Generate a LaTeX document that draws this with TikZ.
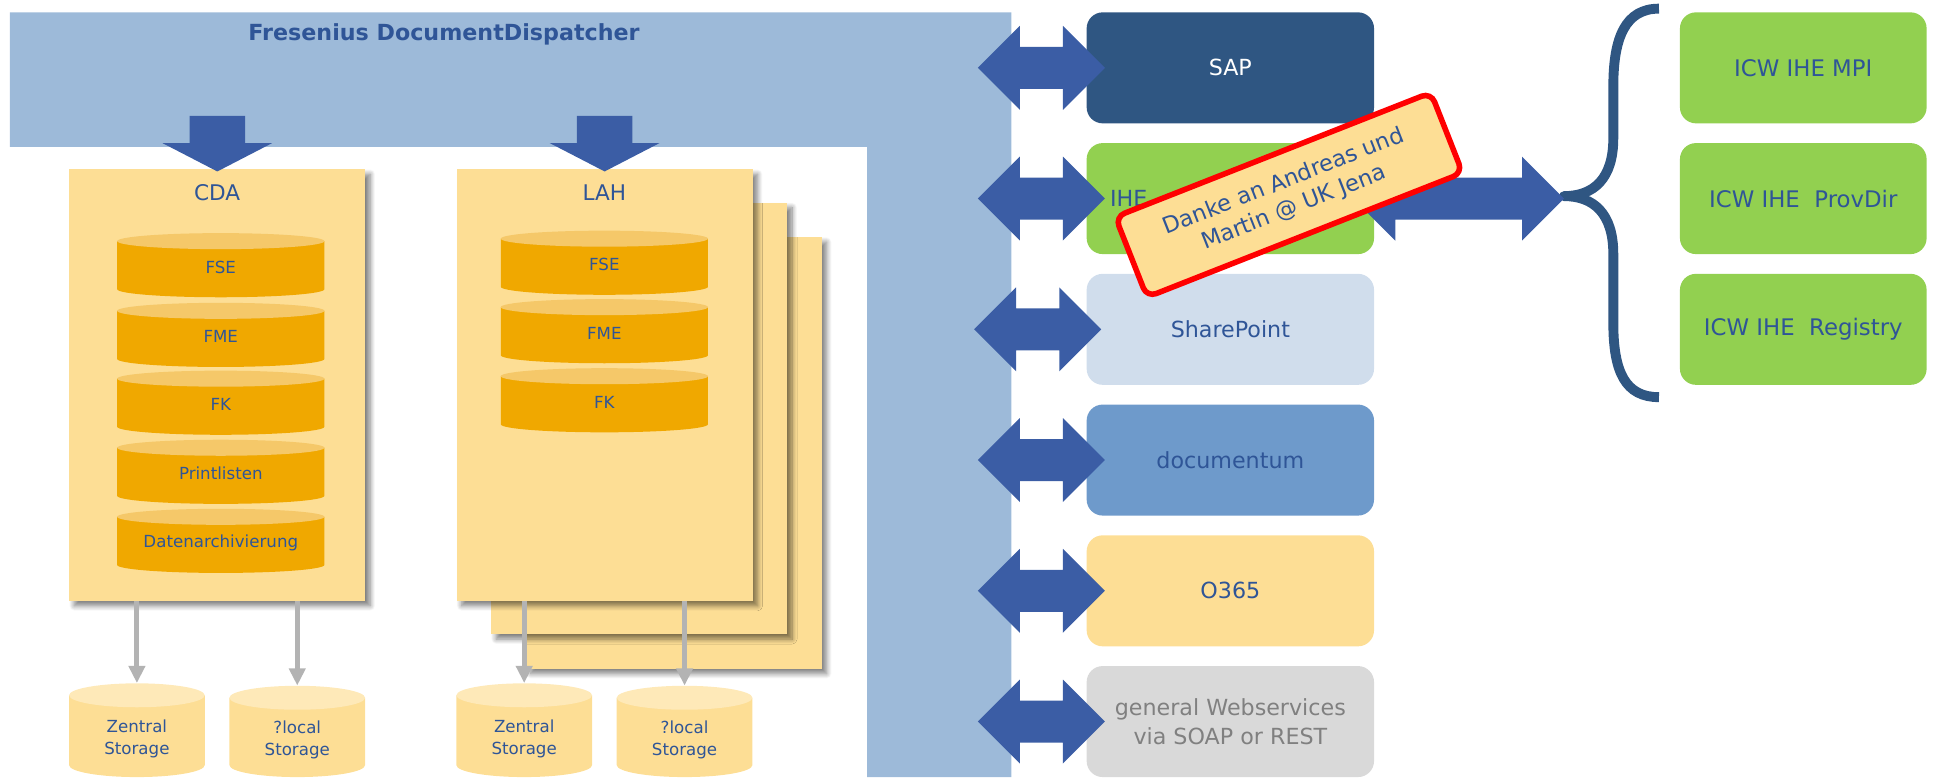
\documentclass[tikz,border=0pt]{standalone}
\usepackage{fontspec}
\setmainfont{DejaVu Sans}
\usetikzlibrary{shapes.geometric,shadows.blur,calc,arrows.meta}
\definecolor{band}{HTML}{9DBAD9}
\definecolor{ablue}{HTML}{3B5DA5}
\definecolor{tblue}{HTML}{2F5597}
\definecolor{ylw}{HTML}{FDDE95}
\definecolor{dbbody}{HTML}{F0A800}
\definecolor{dbtop}{HTML}{F5C869}
\definecolor{stbody}{HTML}{FDDE95}
\definecolor{sttop}{HTML}{FEE9B8}
\definecolor{sapblue}{HTML}{2F5682}
\definecolor{grn}{HTML}{92D050}
\definecolor{spblue}{HTML}{D0DDEC}
\definecolor{docblue}{HTML}{6E9ACB}
\definecolor{lgray}{HTML}{D9D9D9}
\definecolor{dgray}{HTML}{808080}
\definecolor{arrgray}{HTML}{B3B3B3}
\newcommand\bigdarrow[2]{%
  \fill[ablue] let \p1=#1, \p2=#2 in
    (\x1,\y1) -- (\x1+34pt,\y1+34pt) -- (\x1+34pt,\y1+17pt) -- (\x2-34pt,\y1+17pt)
    -- (\x2-34pt,\y1+34pt) -- (\x2,\y1) -- (\x2-34pt,\y1-34pt) -- (\x2-34pt,\y1-17pt)
    -- (\x1+34pt,\y1-17pt) -- (\x1+34pt,\y1-34pt) -- cycle;}
\newcommand\fatdown[1]{%
  \fill[ablue] let \p1=#1 in
    (\x1,\y1) -- (\x1-44.5pt,\y1+23pt) -- (\x1-22.5pt,\y1+23pt) -- (\x1-22.5pt,\y1+45pt)
    -- (\x1+22.5pt,\y1+45pt) -- (\x1+22.5pt,\y1+23pt) -- (\x1+44.5pt,\y1+23pt) -- cycle;}
% #1 name, #2 x, #3 y (centre), #4 width, #5 height, #6 ellipse radius, #7 kind (db/st), #8 text
\newcommand\cyl[8]{%
  \fill[#7body] (#2-#4/2,#3-#5/2+#6) -- (#2-#4/2,#3+#5/2-#6)
     arc[start angle=180,end angle=360,x radius=#4*0.5pt,y radius=#6*1pt]
     -- (#2+#4/2,#3-#5/2+#6) -- cycle;
  \fill[#7top] (#2,#3-#5/2+#6) ellipse[x radius=#4*0.5pt, y radius=#6*1pt];
  \node[#7cyl, minimum width=#4pt, minimum height=#5pt,
        label={[#7txt]center:{#8}}] (#1) at (#2,#3) {};}
\begin{document}
\begin{tikzpicture}[x=1pt,y=-1pt,
  panel/.style={fill=ylw, draw=none, minimum width=240pt, minimum height=350pt,
    anchor=north west, inner sep=0pt,
    blur shadow={shadow xshift=4pt, shadow yshift=-4pt, shadow blur radius=4pt,
      shadow blur steps=10, shadow opacity=50}},
  dbcyl/.style={inner sep=0pt},
  stcyl/.style={inner sep=0pt},
  dbtxt/.style={text=tblue, font=\fontsize{13.5}{16}\selectfont, yshift=-1.5pt},
  sttxt/.style={text=tblue, align=center, font=\fontsize{13.5}{18}\selectfont, yshift=-7pt},
  sysbox/.style={rounded corners=13pt, minimum width=233pt, minimum height=90pt,
    inner sep=0pt, align=center, font=\fontsize{18}{23}\selectfont},
  icwbox/.style={rounded corners=13pt, fill=grn, text=tblue, minimum width=200pt,
    minimum height=90pt, inner sep=0pt, font=\fontsize{18.5}{22}\selectfont},
  lbl/.style={text=tblue, font=\fontsize{17.5}{20}\selectfont, inner sep=0pt},
  garrow/.style={draw=arrgray, line width=4pt, -{Triangle[width=13pt,length=14pt]}},
  notebox/.style={draw=red, line width=4.5pt, fill=ylw, rounded corners=8pt,
    minimum width=275pt, minimum height=70pt, align=center, text=tblue,
    font=\fontsize{18.3}{22.5}\selectfont, inner sep=0pt}
]
\useasboundingbox (0,0) rectangle (1568,630);
% dispatcher band
\fill[band] (8,10) -- (820,10) -- (820,630) -- (703,630) -- (703,119) -- (8,119) -- cycle;
\node[text=tblue, font=\bfseries\fontsize{18}{22}\selectfont] (title) at (360,28) {Fresenius DocumentDispatcher};

% CDA panel
\node[panel] (cda) at (56,137) {};
\node[lbl] (cdaL) at (176,156) {CDA};
\cyl{c1}{179}{215}{168}{52}{6.5}{db}{FSE}
\cyl{c2}{179}{271.5}{168}{52}{6.5}{db}{FME}
\cyl{c3}{179}{326.5}{168}{52}{6.5}{db}{FK}
\cyl{c4}{179}{382.5}{168}{52}{6.5}{db}{Printlisten}
\cyl{c5}{179}{438.5}{168}{52}{6.5}{db}{Datenarchivierung}

% LAH stack
\node[panel] (lah3) at (426,192) {};
\node[panel] (lah2) at (398,164) {};
\node[panel] (lah) at (370,137) {};
\node[lbl] (lahL) at (490,156) {LAH};
\cyl{l1}{490}{213}{168}{52}{6.5}{db}{FSE}
\cyl{l2}{490}{268.5}{168}{52}{6.5}{db}{FME}
\cyl{l3}{490}{324.5}{168}{52}{6.5}{db}{FK}

% down arrows
\fatdown{($(cda.north)+(0,2)$)}
\fatdown{($(lah.north)+(0,2)$)}

% storages
\cyl{zs1}{111}{592}{110}{76}{9.7}{st}{Zentral\\Storage}
\cyl{ls1}{241}{593}{110}{74}{9.7}{st}{?local\\Storage}
\cyl{zs2}{425}{592}{110}{76}{9.7}{st}{Zentral\\Storage}
\cyl{ls2}{555}{593}{110}{74}{9.7}{st}{?local\\Storage}
\draw[garrow] (cda.south -| zs1.north) -- (zs1.north);
\draw[garrow] (cda.south -| ls1.north) -- (ls1.north);
\draw[garrow] (lah.south -| zs2.north) -- (zs2.north);
\draw[garrow] (lah.south -| ls2.north) -- (ls2.north);

% systems
\node[sysbox, fill=sapblue, text=white] (sap) at (997.5,55) {SAP};
\node[sysbox, fill=grn] (ihe) at (997.5,161) {};
\node[text=tblue, font=\fontsize{18}{23}\selectfont, anchor=west, inner sep=0pt] (iheL) at ($(ihe.west)+(19,0)$) {IHE};
\node[sysbox, fill=spblue, text=tblue] (sp) at (997.5,267) {SharePoint};
\node[sysbox, fill=docblue, text=tblue] (doc) at (997.5,373) {documentum};
\node[sysbox, fill=ylw, text=tblue] (o365) at (997.5,479) {O365};
\node[sysbox, fill=lgray, text=dgray] (ws) at (997.5,585) {general Webservices\\via SOAP or REST};

\bigdarrow{($(sap.west)+(-88,0)$)}{($(sap.west)+(15,0)$)}
\bigdarrow{($(ihe.west)+(-88,0)$)}{($(ihe.west)+(15,0)$)}
\bigdarrow{($(sp.west)+(-91,0)$)}{($(sp.west)+(12,0)$)}
\bigdarrow{($(doc.west)+(-88,0)$)}{($(doc.west)+(15,0)$)}
\bigdarrow{($(o365.west)+(-88,0)$)}{($(o365.west)+(15,0)$)}
\bigdarrow{($(ws.west)+(-88,0)$)}{($(ws.west)+(15,0)$)}

% ICW boxes
\node[icwbox] (mpi) at (1462,55) {ICW IHE MPI};
\node[icwbox] (prov) at (1462,161) {ICW IHE\ \ ProvDir};
\node[icwbox] (reg) at (1462,267) {ICW IHE\ \ Registry};

% brace
\coordinate (cusp) at (1268,159);
\draw[sapblue, line width=8pt, line join=round]
  (1345,7) .. controls (1318,7) and (1308,30) .. (1308,70) -- (1308,112)
  .. controls (1308,145) and (1292,159) .. (cusp)
  .. controls (1292,159) and (1308,173) .. (1308,206) -- (1308,262)
  .. controls (1308,302) and (1318,322) .. (1345,322);

\bigdarrow{($(ihe.east)+(-17,0)$)}{(cusp)}

% note
\node[notebox, rotate=21.5] (note) at (1045,158) {Danke an Andreas und\\Martin @ UK Jena};
\end{tikzpicture}
\end{document}
